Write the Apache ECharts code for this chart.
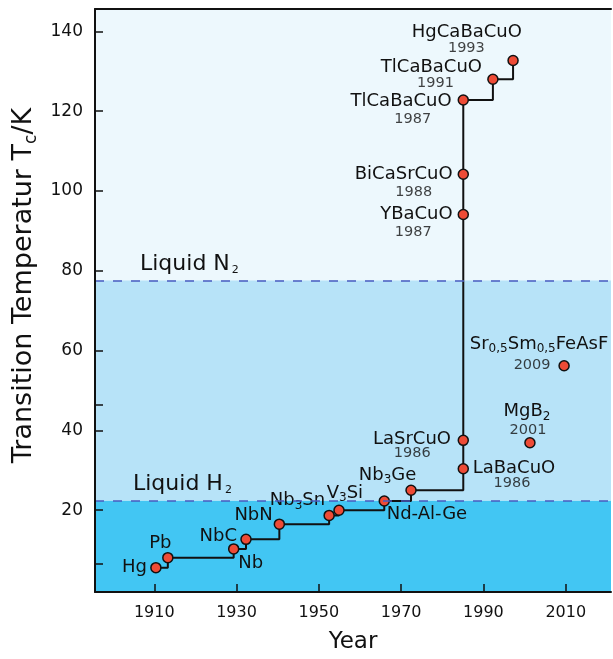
<!DOCTYPE html>
<html>
<head>
<meta charset="utf-8">
<script src="https://cdn.jsdelivr.net/npm/echarts@6/dist/echarts.min.js"></script>
<style>
  html, body { margin: 0; padding: 0; background: #ffffff; }
  #chart { width: 613px; height: 659px; }
</style>
</head>
<body>
<div id="chart"></div>
<script>
// Record superconducting transition temperatures through the years.
// Names may carry {s|...} markup for subscripts.
const compounds = ['Hg', 'Pb', 'Nb', 'NbC', 'NbN', 'Nb{s|3}Sn', 'V{s|3}Si', 'Nd-Al-Ge', 'Nb{s|3}Ge',
  'LaBaCuO', 'LaSrCuO', 'YBaCuO', 'BiCaSrCuO', 'TlCaBaCuO', 'TlCaBaCuO', 'HgCaBaCuO'];
const plotYear = [1910.4, 1913.3, 1929.3, 1932.3, 1940.4, 1952.5, 1954.9, 1965.9, 1972.4,
  1985.1, 1985.1, 1985.1, 1985.1, 1985.1, 1992.3, 1997.2];
const tcKelvin = [5.6, 8.1, 10.3, 12.7, 16.5, 18.7, 20.0, 22.3, 25.0,
  30.4, 37.5, 94.1, 104.2, 122.8, 128.0, 132.7];
const discovered = ['', '', '', '', '', '', '', '', '',
  '1986', '1986', '1987', '1988', '1987', '1991', '1993'];

// Compounds outside the record staircase
const otherCompounds = ['MgB{s|2}', 'Sr{s|0,5}Sm{s|0,5}FeAsF'];
const otherYear = [2001.3, 2009.6];
const otherTc = [36.9, 56.2];
const otherDiscovered = ['2001', '2009'];

// Coolant boiling points
const coolants = ['Liquid N{s|2}', 'Liquid H{s|2}'];
const coolantTemp = [77.6, 22.4];

const xTicks = [1910, 1930, 1950, 1970, 1990, 2010];
const yTicks = [20, 40, 60, 80, 100, 120, 140];
const yExtraTicks = [6.7, 46.4];

// Label placement: [align, dx, dy] relative to the marker centre
const nameLayout = [
  ['right', -9, 0], ['center', -7.5, -14], ['left', 4.5, 14.5], ['right', -9, -3],
  ['right', -6.6, -9], ['right', -4, -15], ['left', -12.3, -17], ['left', 2.4, 13],
  ['right', 5.3, -15], ['left', 9.4, -0.5], ['right', -12.3, -1.3], ['right', -10.6, -0.3],
  ['right', -10.6, -0.3], ['right', -11.6, 1.7], ['center', -61.5, -12], ['center', -46.2, -27.8]
];
const yearLayout = [
  null, null, null, null, null, null, null, null, null,
  ['center', 48.7, 14.3], ['center', -51, 12.7], ['center', -50, 17.7], ['center', -49.6, 17.7],
  ['center', -50.5, 19.7], ['center', -57.5, 4], ['center', -46.7, -12.3]
];
const otherNameLayout = [['center', -3, -31], ['left', -94.3, -21.7]];
const otherYearLayout = [['center', -2, -12.7], ['center', -32, -0.7]];
// Horizontal offset of each coolant caption from the left axis
const coolantLabelShift = [45, 38];

const FONT = 'DejaVu Sans';
const INK = '#111111';
const X_MIN = 1895.6, X_MAX = 2021.0;
const Y_MIN = -0.5, Y_MAX = 145.6;

const subStyle = { fontFamily: FONT, fontSize: 12, lineHeight: 20, padding: [10, 0, 0, 0], color: INK };

function placedLabel(layout) {
  return { show: true, position: 'inside', align: layout[0], verticalAlign: 'middle', offset: [layout[1], layout[2]] };
}

const staircase = plotYear.map((x, i) => [x, tcKelvin[i]]);

const pointData = compounds.map((name, i) => ({
  name: name, value: [plotYear[i], tcKelvin[i]], label: placedLabel(nameLayout[i])
})).concat(otherCompounds.map((name, i) => ({
  name: name, value: [otherYear[i], otherTc[i]], label: placedLabel(otherNameLayout[i])
})));

const yearData = [];
discovered.forEach((y, i) => {
  if (y) yearData.push({ name: y, value: [plotYear[i], tcKelvin[i]], label: placedLabel(yearLayout[i]) });
});
otherDiscovered.forEach((y, i) => {
  yearData.push({ name: y, value: [otherYear[i], otherTc[i]], label: placedLabel(otherYearLayout[i]) });
});

const chart = echarts.init(document.getElementById('chart'), null, { renderer: 'canvas' });

chart.setOption({
  animation: false,
  backgroundColor: '#ffffff',
  textStyle: { fontFamily: FONT },
  grid: { left: 95, right: 2, top: 9, bottom: 67, containLabel: false },
  xAxis: [{
    type: 'value', min: X_MIN, max: X_MAX, position: 'bottom', z: 10,
    name: 'Year', nameLocation: 'middle', nameGap: 39,
    nameTextStyle: { fontFamily: FONT, fontSize: 23, color: INK },
    axisLine: { show: true, onZero: false, lineStyle: { color: INK, width: 2 } },
    axisTick: { show: true, inside: true, length: 8, customValues: xTicks, lineStyle: { color: INK, width: 1.5 } },
    axisLabel: { show: true, customValues: xTicks, formatter: v => String(v), fontFamily: FONT, fontSize: 16, color: INK, margin: 13 },
    splitLine: { show: false }
  }, {
    type: 'value', min: X_MIN, max: X_MAX, position: 'top', z: 10,
    axisLine: { show: true, onZero: false, lineStyle: { color: INK, width: 2 } },
    axisTick: { show: false }, axisLabel: { show: false }, splitLine: { show: false }
  }],
  yAxis: {
    type: 'value', min: Y_MIN, max: Y_MAX, z: 10,
    name: 'Transition Temperatur T{c|c}/K', nameLocation: 'middle', nameGap: 52,
    nameTextStyle: {
      fontFamily: FONT, fontSize: 27, color: INK, padding: [0, 0, 0, 30],
      rich: { c: { fontFamily: FONT, fontSize: 17, color: INK, lineHeight: 32, padding: [14, 0, 0, 0] } }
    },
    axisLine: { show: true, onZero: false, lineStyle: { color: INK, width: 2 } },
    axisTick: { show: true, inside: true, length: 8, customValues: yTicks.concat(yExtraTicks), lineStyle: { color: INK, width: 1.5 } },
    axisLabel: { show: true, customValues: yTicks, fontFamily: FONT, fontSize: 17, color: INK, margin: 12 },
    splitLine: { show: false }
  },
  series: [
    {
      // coloured temperature bands and coolant lines
      type: 'line', data: [], z: 1, silent: true,
      markArea: {
        silent: true,
        data: [
          [{ yAxis: Y_MIN, itemStyle: { color: '#42C6F3', opacity: 1 } }, { yAxis: coolantTemp[1] }],
          [{ yAxis: coolantTemp[1], itemStyle: { color: '#B7E3F8', opacity: 1 } }, { yAxis: coolantTemp[0] }],
          [{ yAxis: coolantTemp[0], itemStyle: { color: '#EDF8FD', opacity: 1 } }, { yAxis: Y_MAX }]
        ]
      },
      markLine: {
        silent: true, symbol: ['none', 'none'],
        lineStyle: { color: '#4A5CC0', width: 1.5, type: [9, 9] },
        label: {
          show: true, position: 'insideStartTop',
          formatter: '{b}', fontFamily: FONT, fontSize: 22, lineHeight: 26, color: INK,
          rich: { s: { fontFamily: FONT, fontSize: 11, lineHeight: 26, padding: [12, 0, 0, 2], color: INK } }
        },
        data: coolants.map((c, i) => ({ name: c, yAxis: coolantTemp[i], label: { distance: [coolantLabelShift[i], 3] } }))
      }
    },
    {
      // record staircase
      type: 'line', step: 'end', data: staircase, z: 2, silent: true,
      symbol: 'none', lineStyle: { color: INK, width: 2 }
    },
    {
      // compound markers with names
      type: 'scatter', data: pointData, z: 3, silent: true,
      symbol: 'circle', symbolSize: 10,
      itemStyle: { color: '#EE4B36', borderColor: INK, borderWidth: 1.5, opacity: 1 },
      label: {
        show: true, formatter: '{b}', fontFamily: FONT, fontSize: 18, lineHeight: 20, color: INK,
        rich: { s: subStyle }
      }
    },
    {
      // discovery years under the names
      type: 'scatter', data: yearData, z: 4, silent: true,
      symbol: 'circle', symbolSize: 1, itemStyle: { color: 'transparent' },
      label: { show: true, formatter: '{b}', fontFamily: FONT, fontSize: 14.5, color: INK }
    }
  ]
});
</script>
</body>
</html>
